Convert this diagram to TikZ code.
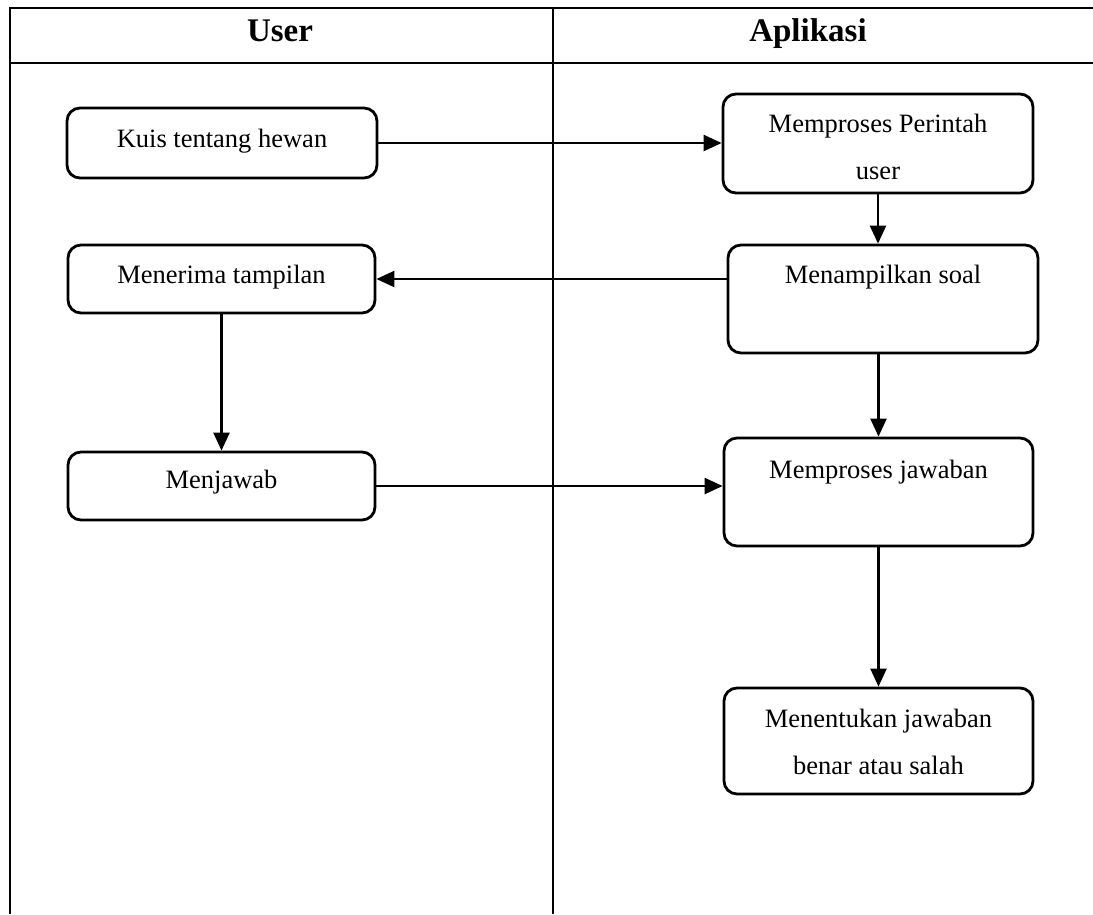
\documentclass[tikz,border=0pt]{standalone}
\usepackage{fontspec}
\setmainfont{Liberation Serif}
\usetikzlibrary{arrows.meta}

\tikzset{
  lane/.style={line width=2pt},
  act/.style={draw, line width=2.8pt, rounded corners=13pt, inner sep=0pt},
  txt/.style={font=\fontsize{26.5}{47}\selectfont, align=center, inner sep=0pt},
  head/.style={font=\fontsize{33}{38}\selectfont\bfseries, inner sep=0pt, anchor=base},
  flow/.style={line width=2.3pt, -{Triangle[length=18pt,width=16pt]}}
}

\begin{document}
\begin{tikzpicture}[x=1pt,y=-1pt]
\useasboundingbox (0,0) rectangle (1093,914);

% swimlane frame
\coordinate (tr) at (1093,8);
\coordinate (tl) at (10,8);
\coordinate (bl) at (10,914);
\coordinate (hl) at (10,63);
\coordinate (hr) at (1093,63);
\coordinate (mt) at (553,8);
\coordinate (mb) at (553,914);
\draw[lane] (tr) -- (tl) -- (bl);
\draw[lane] (hl) -- (hr);
\draw[lane] (mt) -- (mb);

% lane headings
\node[head] (hUser) at (280,41) {User};
\node[head] (hApp) at (808,41) {Aplikasi};

% activity boxes (User lane)
\node[act, minimum width=310pt, minimum height=70pt] (kuis) at (222,143) {};
\node[act, minimum width=307pt, minimum height=68pt] (terima) at (221.5,279) {};
\node[act, minimum width=307pt, minimum height=68pt] (jawab) at (221.5,486) {};

% activity boxes (Aplikasi lane)
\node[act, minimum width=310pt, minimum height=99pt] (perintah) at (878,143.5) {};
\node[act, minimum width=310pt, minimum height=108pt] (tampil) at (883,299) {};
\node[act, minimum width=309pt, minimum height=108pt] (proses) at (878.5,492) {};
\node[act, minimum width=309pt, minimum height=106pt] (tentukan) at (878.5,741) {};

% box texts
\node[txt] (tKuis) at (222,141) {Kuis tentang hewan};
\node[txt] (tTerima) at (221.5,277) {Menerima tampilan};
\node[txt] (tJawab) at (221.5,482) {Menjawab};
\node[txt] (tPerintah) at (878,147) {Memproses Perintah\\user};
\node[txt] (tTampil) at (883,277) {Menampilkan soal};
\node[txt] (tProses) at (878.5,472) {Memproses jawaban};
\node[txt] (tTentukan) at (878.5,742) {Menentukan jawaban\\benar atau salah};

% connectors
\draw[flow] (kuis.east) -- (kuis.east -| perintah.west);
\draw[flow] (perintah.south) -- (perintah.south |- tampil.north);
\draw[flow] (terima.east -| tampil.west) -- (terima.east);
\draw[flow] (terima.south) -- (jawab.north);
\draw[flow] (proses.north |- tampil.south) -- (proses.north);
\draw[flow] (jawab.east) -- (jawab.east -| proses.west);
\draw[flow] (proses.south) -- (tentukan.north);
\end{tikzpicture}
\end{document}
